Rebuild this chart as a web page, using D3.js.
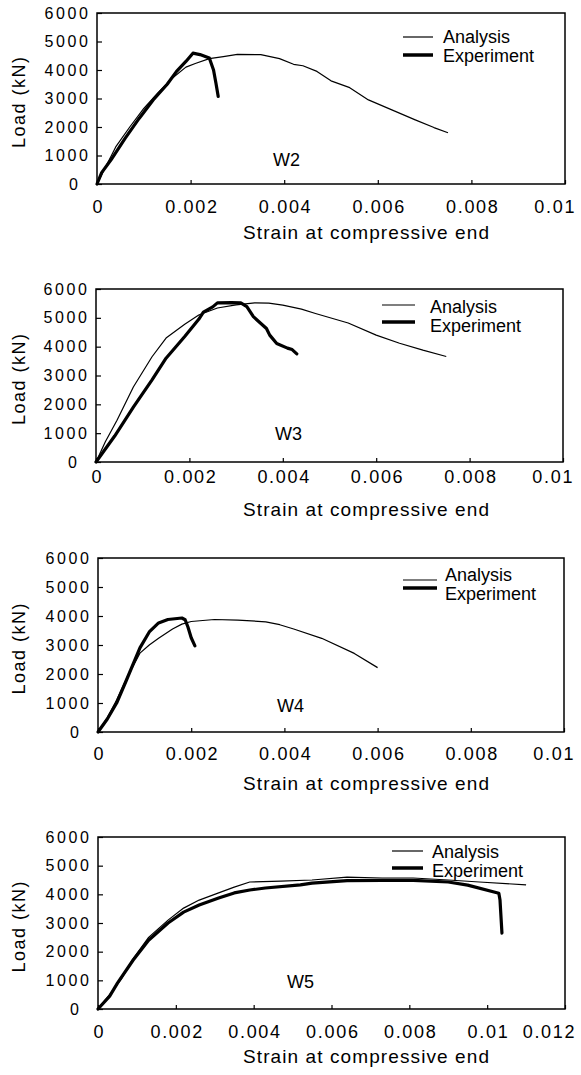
<!DOCTYPE html>
<html>
<head>
<meta charset="utf-8">
<script src="https://d3js.org/d3.v7.min.js"></script>
<style>
body { margin: 0; background: #fff; }
text { font-family: "Liberation Sans", Arial, sans-serif; fill: #000; }
</style>
</head>
<body>
<script>
// tick values
var strainTicks = [0, 0.002, 0.004, 0.006, 0.008, 0.01];
var strainTicksW5 = [0, 0.002, 0.004, 0.006, 0.008, 0.01, 0.012];
var loadTicks = [0, 1000, 2000, 3000, 4000, 5000, 6000];
var specimens = ["W2", "W3", "W4", "W5"];
var seriesNames = ["Analysis", "Experiment"];

// [strain, load kN]
var w2Analysis = [[0,0],[0.0002,650],[0.0004,1300],[0.0007,2000],[0.001,2650],[0.0013,3200],[0.0016,3700],
  [0.0019,4100],[0.0021,4230],[0.0024,4400],[0.0027,4470],[0.003,4550],[0.0035,4540],[0.0039,4400],[0.0042,4200],
  [0.0044,4150],[0.0047,3950],[0.005,3620],[0.0054,3380],[0.0058,2950],[0.0063,2600],[0.0068,2250],[0.0072,1980],[0.0075,1800]];
var w2Experiment = [[0,0],[0.0001,400],[0.0003,850],[0.0006,1600],[0.0009,2300],[0.0012,2950],[0.0015,3500],
  [0.0017,3950],[0.0019,4300],[0.00205,4590],[0.0022,4540],[0.0024,4420],[0.00249,4000],[0.00254,3550],[0.00259,3070]];

var w3Analysis = [[0,0],[0.0002,700],[0.00045,1450],[0.0008,2600],[0.0012,3650],[0.0015,4300],[0.0019,4780],
  [0.0022,5100],[0.0026,5340],[0.003,5450],[0.0034,5520],[0.0037,5510],[0.004,5440],[0.0044,5300],[0.0047,5150],
  [0.0054,4820],[0.006,4400],[0.0065,4120],[0.007,3880],[0.0075,3660]];
var w3Experiment = [[0,0],[0.0004,900],[0.0008,1900],[0.0012,2850],[0.0015,3600],[0.0019,4350],[0.0022,4950],
  [0.0023,5200],[0.0025,5380],[0.0026,5520],[0.0029,5530],[0.0031,5520],[0.00323,5390],[0.00337,5040],[0.00365,4630],
  [0.00372,4400],[0.00387,4110],[0.0041,3950],[0.0042,3900],[0.0043,3750]];

var w4Analysis = [[0,0],[0.0002,500],[0.0004,1100],[0.0006,1800],[0.0009,2720],[0.0011,3000],[0.0013,3230],
  [0.0016,3550],[0.0018,3720],[0.002,3810],[0.0025,3880],[0.003,3860],[0.0036,3800],[0.0039,3700],[0.0042,3550],
  [0.0048,3230],[0.0055,2710],[0.006,2220]];
var w4Experiment = [[0,0],[0.0002,450],[0.0004,1000],[0.0006,1750],[0.0009,2900],[0.0011,3450],[0.0013,3760],
  [0.0015,3880],[0.0018,3930],[0.00187,3870],[0.00193,3620],[0.002,3250],[0.00208,2970]];

var w5Analysis = [[0,0],[0.0003,500],[0.0006,1050],[0.0009,1750],[0.0013,2500],[0.0018,3100],[0.0022,3520],
  [0.0026,3800],[0.0031,4050],[0.0035,4250],[0.0039,4430],[0.0047,4460],[0.0055,4500],[0.0064,4600],[0.0073,4570],
  [0.0081,4570],[0.009,4500],[0.0098,4430],[0.011,4330]];
var w5Experiment = [[0,0],[0.0003,450],[0.0005,900],[0.0009,1700],[0.0013,2400],[0.0018,3000],[0.0022,3380],
  [0.0026,3630],[0.0031,3870],[0.0035,4050],[0.0039,4150],[0.0043,4220],[0.0052,4330],[0.0055,4390],[0.0064,4480],
  [0.0073,4490],[0.0081,4490],[0.009,4430],[0.0095,4320],[0.0103,4040],[0.01033,3800],[0.01038,2650]];

var analysis = [w2Analysis, w3Analysis, w4Analysis, w5Analysis];
var experiment = [w2Experiment, w3Experiment, w4Experiment, w5Experiment];
var xTicks = [strainTicks, strainTicks, strainTicks, strainTicksW5];

// page layout of each panel
var boxes = [
  {top:13,  bottom:184,  left:97, right:565, tickGap:29, titleGap:55, legX:403, legW:30, legTextX:443, legLine:[24,42], legText:[30,49], tagX:273, tagDy:18},
  {top:289, bottom:462,  left:96, right:563, tickGap:21, titleGap:54, legX:382, legW:33, legTextX:430, legLine:[16,33], legText:[24,43], tagX:275, tagDy:22},
  {top:558, bottom:732,  left:98, right:564, tickGap:28, titleGap:58, legX:403, legW:34, legTextX:445, legLine:[22,30], legText:[23,42], tagX:277, tagDy:20},
  {top:837, bottom:1009, left:98, right:565, tickGap:29, titleGap:54, legX:392, legW:31, legTextX:432, legLine:[14,31], legText:[21,40], tagX:287, tagDy:21}
];

var svg = d3.select("body").append("svg")
  .attr("width", 581)
  .attr("height", 1075);

// the scanned figure is set wider than the font, so open up the spacing
function stretch(sel, k) {
  sel.each(function() {
    var w = this.getComputedTextLength();
    d3.select(this).attr("textLength", w * k).attr("lengthAdjust", "spacing");
  });
}

function drawPanel(i) {
  var b = boxes[i];
  var ticks = xTicks[i];
  var x = d3.scaleLinear().domain([0, ticks[ticks.length - 1]]).range([b.left, b.right]);
  var y = d3.scaleLinear().domain([0, 6000]).range([b.bottom, b.top]);
  var g = svg.append("g");

  // y axis
  var ya = g.append("g")
    .attr("transform", "translate(" + b.left + ",0)")
    .call(d3.axisLeft(y).tickValues(loadTicks).tickSizeInner(-5).tickSizeOuter(0).tickPadding(9).tickFormat(d3.format("d")))
    .attr("font-size", 16);
  ya.select(".domain").remove();
  ya.selectAll("line").attr("stroke-width", 1.2);
  ya.selectAll("text").filter(function(d) { return d === 0; }).attr("x", -19);
  stretch(ya.selectAll("text"), 1.22);

  // x axis
  var xa = g.append("g")
    .attr("transform", "translate(0," + b.bottom + ")")
    .call(d3.axisBottom(x).tickValues(ticks).tickSizeInner(-4).tickSizeOuter(0).tickFormat(function(d) { return String(d); }))
    .attr("font-size", 18);
  xa.select(".domain").remove();
  xa.selectAll("line").attr("stroke-width", 1.2);
  xa.selectAll("text").attr("y", b.tickGap).attr("dy", 0);
  xa.selectAll("text").filter(function(d, j) { return j === ticks.length - 1; })
    .attr("text-anchor", "end").attr("x", 9);
  stretch(xa.selectAll("text"), 1.15);

  // frame
  g.append("rect")
    .attr("x", b.left)
    .attr("y", b.top)
    .attr("width", b.right - b.left)
    .attr("height", b.bottom - b.top)
    .style("fill", "none")
    .style("stroke", "black")
    .style("stroke-width", 1.5);

  var line = d3.line().x(function(d) { return x(d[0]); }).y(function(d) { return y(d[1]); });

  g.append("path")
    .attr("d", line(analysis[i]))
    .style("fill", "none")
    .style("stroke", "black")
    .style("stroke-width", 1.2)
    .style("stroke-linejoin", "round");

  g.append("path")
    .attr("d", line(experiment[i]))
    .style("fill", "none")
    .style("stroke", "black")
    .style("stroke-width", 3.2)
    .style("stroke-linejoin", "round")
    .style("stroke-linecap", "round");

  // legend
  [1.2, 3.5].forEach(function(w, k) {
    g.append("line")
      .attr("x1", b.legX)
      .attr("x2", b.legX + b.legW)
      .attr("y1", b.top + b.legLine[k])
      .attr("y2", b.top + b.legLine[k])
      .style("stroke", "black")
      .style("stroke-width", w);
    g.append("text")
      .attr("x", b.legTextX)
      .attr("y", b.top + b.legText[k])
      .attr("font-size", "18px")
      .text(seriesNames[k]);
  });

  // specimen tag
  g.append("text")
    .attr("x", b.tagX)
    .attr("y", b.bottom - b.tagDy)
    .attr("font-size", "18px")
    .text(specimens[i]);

  // axis titles
  var xt = g.append("text")
    .attr("x", 366)
    .attr("y", b.bottom + b.titleGap)
    .attr("text-anchor", "middle")
    .attr("font-size", "19px")
    .text("Strain at compressive end");
  stretch(xt, 1.12);

  var yt = g.append("text")
    .attr("transform", "translate(25," + ((b.top + b.bottom) / 2 + 4) + ") rotate(-90)")
    .attr("text-anchor", "middle")
    .attr("font-size", "18px")
    .text("Load (kN)");
  stretch(yt, 1.15);
}

specimens.forEach(function(s, i) { drawPanel(i); });
</script>
</body>
</html>
